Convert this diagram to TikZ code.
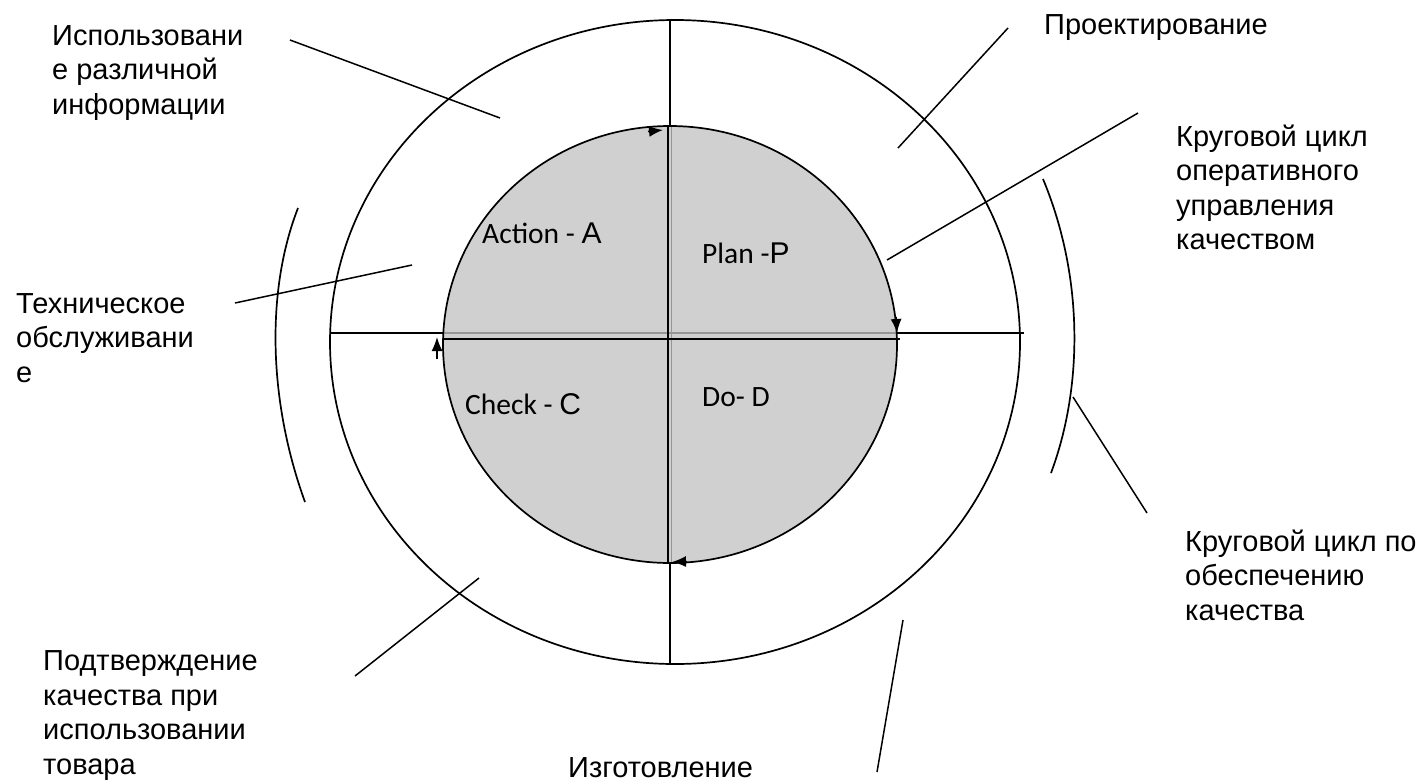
\documentclass[tikz,border=0pt]{standalone}
\usepackage{fontspec}
\setmainfont{Liberation Sans}
\newfontfamily\calfont{Carlito}
\usetikzlibrary{arrows.meta}
\definecolor{diskfill}{RGB}{208,208,208}
\definecolor{seam}{RGB}{150,150,150}
\newcommand\bigletter[1]{{\rmfamily\fontsize{30}{32}\selectfont #1}}
\begin{document}
\begin{tikzpicture}[x=1pt,y=-1pt,
  stroke/.style={line width=1.7pt, black},
  leader/.style={line width=1.5pt, black},
  label/.style={inner sep=0pt, anchor=base west, align=left,
    font=\fontsize{29}{34.5}\selectfont},
  phase/.style={inner sep=0pt, anchor=base west,
    font=\calfont\fontsize{29.5}{32}\selectfont},
  cyc/.style={-{Latex[length=14pt,width=11pt]}, line width=1.5pt}]
\useasboundingbox (0,0) rectangle (1418,782);

% outer cycle and its cross
\draw[stroke] (675,342) ellipse [x radius=345, y radius=322];
\draw[stroke] (330,333) -- (1024,333);
\draw[stroke] (670,20) -- (670,665);

% inner PDCA disk
\fill[diskfill] (670,344.5) ellipse [x radius=227, y radius=218.5];
\draw[seam, line width=1.4pt] (443,333) -- (897,333);
\draw[seam, line width=1.4pt] (671.5,126) -- (671.5,563);
\draw[stroke] (443,339) -- (900,339);
\draw[stroke] (668,126) -- (668,563);
\draw[stroke] (670,344.5) ellipse [x radius=227, y radius=218.5];

% direction of the cycle
\coordinate (aT) at (663,130);
\coordinate (aR) at (897,333);
\coordinate (aB) at (672,562);
\coordinate (aL) at (437,337);
\draw[cyc] (648,131.5) -- (aT);
\draw[cyc] (896,317) -- (aR);
\draw[cyc] (687,561.5) -- (aB);
\draw[cyc] (437,359) -- (aL);

% side brackets
\draw[stroke] (298,208) .. controls (266,290) and (268,400) .. (305,502);
\draw[stroke] (1043,179) .. controls (1085,280) and (1082,390) .. (1051,473);

% phase labels
\node[phase] (act) at (482,243) {Action - \bigletter{A}};
\node[phase] (plan) at (702,263) {Plan -\bigletter{P}};
\node[phase] (chk) at (465,414) {Check - \bigletter{C}};
\node[phase] (do) at (702,406) {Do- D};

% outer labels (anchored at the baseline of their last line)
\node[label] (info) at (52,114) {Использовани\\е различной\\информации};
\node[label] (proj) at (1044,34) {Проектирование};
\node[label] (oper) at (1176,249.5) {Круговой цикл\\оперативного\\управления\\качеством};
\node[label] (tech) at (16,382) {Техническое\\обслуживани\\е};
\node[label] (ens) at (1185,620) {Круговой цикл по\\обеспечению\\качества};
\node[label] (conf) at (43,774) {Подтверждение\\качества при\\использовании\\товара};
\node[label] (make) at (568,777) {Изготовление};

% leader lines
\coordinate (infoA) at (290,40);   \coordinate (infoB) at (500,118);
\coordinate (projA) at (1008,28);  \coordinate (projB) at (898,148);
\coordinate (operA) at (1138,113); \coordinate (operB) at (887,260);
\coordinate (techA) at (235,303);  \coordinate (techB) at (412,265);
\coordinate (ensA) at (1147,513);  \coordinate (ensB) at (1073,397);
\coordinate (confA) at (355,676);  \coordinate (confB) at (479,578);
\coordinate (makeA) at (877,772);  \coordinate (makeB) at (903,620);
\draw[leader] (infoA) -- (infoB);
\draw[leader] (projA) -- (projB);
\draw[leader] (operA) -- (operB);
\draw[leader] (techA) -- (techB);
\draw[leader] (ensA) -- (ensB);
\draw[leader] (confA) -- (confB);
\draw[leader] (makeA) -- (makeB);
\end{tikzpicture}
\end{document}
